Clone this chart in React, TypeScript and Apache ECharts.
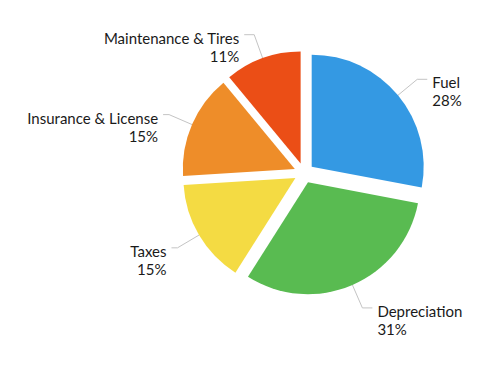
import React, { useEffect, useRef } from "react";
import * as echarts from "echarts";

const categories = ["Fuel", "Depreciation", "Taxes", "Insurance & License", "Maintenance & Tires"];
const values = [28, 31, 15, 15, 11];
const colors = ["#3499E3", "#59BB51", "#F4DB43", "#EE8D29", "#EB4E16"];
const leftSide = [false, false, true, true, false];

export default function App() {
  const ref = useRef<HTMLDivElement>(null);
  useEffect(() => {
    const chart = echarts.init(ref.current!, null, { renderer: "svg" });
    chart.setOption({
      animation: false,
      backgroundColor: "#ffffff",
      series: [
        {
          type: "pie",
          center: [304, 173],
          radius: 112,
          startAngle: 90,
          clockwise: true,
          selectedMode: "multiple",
          selectedOffset: 10,
          avoidLabelOverlap: false,
          data: categories.map((name, i) => ({
            name,
            value: values[i],
            selected: true,
            itemStyle: { color: colors[i] },
            labelLine: leftSide[i] ? { length2: 6 } : undefined,
          })),
          label: {
            formatter: "{e| }\n{t|{b}}\n{t|{d}%}",
            rich: {
              e: { lineHeight: 24, fontSize: 10 },
              t: {
                fontFamily: "Lato",
                fontSize: 15,
                lineHeight: 18,
                color: "#1a1a1a",
              },
            },
          },
          labelLine: {
            show: true,
            length: 25,
            length2: 10,
            lineStyle: { color: "#c4c4c4", width: 1 },
          },
          emphasis: { disabled: true },
        },
      ],
    });
    return () => chart.dispose();
  }, []);
  return <div ref={ref} style={{ width: 500, height: 366, margin: -8 }} />;
}
